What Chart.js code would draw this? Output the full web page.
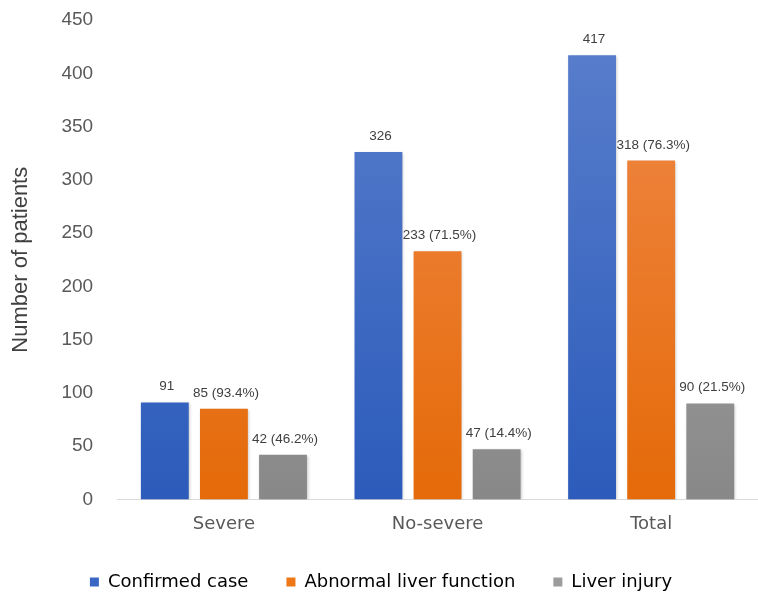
<!DOCTYPE html>
<html>
<head>
<meta charset="utf-8">
<script src="https://cdn.jsdelivr.net/npm/chart.js@4/dist/chart.umd.min.js"></script>
<style>
  html, body { margin: 0; padding: 0; background: #fff; }
  #wrap { width: 758px; height: 593px; }
</style>
</head>
<body>
<div id="wrap"><canvas id="liverChart"></canvas></div>
<script>
const categories = ['Severe', 'No-severe', 'Total'];
const confirmedCase = [91, 326, 417];
const abnormalLiver = [85, 233, 318];
const liverInjury = [42, 47, 90];
const confirmedLabels = ['91', '326', '417'];
const abnormalLabels = ['85 (93.4%)', '233 (71.5%)', '318 (76.3%)'];
const injuryLabels = ['42 (46.2%)', '47 (14.4%)', '90 (21.5%)'];
const yTicks = [0, 50, 100, 150, 200, 250, 300, 350, 400, 450];

const WIDE = "'DejaVu Sans', sans-serif";
const ARIAL = "'Liberation Sans', Arial, sans-serif";

// vertical gradient per bar series, top lighter -> bottom darker
function barGradient(top, bottom) {
    return function (context) {
        const chart = context.chart;
        const area = chart.chartArea;
        if (!area) return bottom;
        const g = chart.ctx.createLinearGradient(0, area.top, 0, area.bottom);
        g.addColorStop(0, top);
        g.addColorStop(1, bottom);
        return g;
    };
}

// ------------------ VALUE LABELS ------------------
const valueLabels = {
    id: 'valueLabels',
    afterDatasetsDraw(chart) {
        const ctx = chart.ctx;
        ctx.save();
        ctx.font = '13.5px ' + ARIAL;
        ctx.fillStyle = '#404040';
        ctx.textAlign = 'center';
        ctx.textBaseline = 'bottom';
        chart.data.datasets.forEach((ds, i) => {
            chart.getDatasetMeta(i).data.forEach((bar, j) => {
                ctx.fillText(ds.valueText[j], bar.x + 2, bar.y - 9);
            });
        });
        ctx.restore();
    }
};

// soft shadow under bars
const barShadow = {
    id: 'barShadow',
    beforeDatasetsDraw(chart) {
        const ctx = chart.ctx;
        ctx.save();
        ctx.shadowColor = 'rgba(0,0,0,0.25)';
        ctx.shadowBlur = 3;
        ctx.shadowOffsetX = 1;
        ctx.shadowOffsetY = 1;
    },
    afterDatasetsDraw(chart) {
        chart.ctx.restore();
    }
};

new Chart(document.getElementById('liverChart'), {
    type: 'bar',
    data: {
        labels: categories,
        datasets: [
            {
                label: 'Confirmed case',
                data: confirmedCase,
                valueText: confirmedLabels,
                backgroundColor: barGradient('#5a7fcc', '#2c5bbb')
            },
            {
                label: 'Abnormal liver function',
                data: abnormalLiver,
                valueText: abnormalLabels,
                backgroundColor: barGradient('#f08a4c', '#e56a08')
            },
            {
                label: 'Liver injury',
                data: liverInjury,
                valueText: injuryLabels,
                backgroundColor: barGradient('#b0b0b0', '#888888')
            }
        ]
    },
    options: {
        responsive: true,
        maintainAspectRatio: false,
        animation: false,
        layout: { padding: { top: 0, right: 0, left: 4, bottom: -8 } },
        datasets: {
            bar: { categoryPercentage: 0.83, barPercentage: 0.81 }
        },
        plugins: {
            legend: {
                position: 'bottom',
                labels: {
                    boxWidth: 9,
                    boxHeight: 9,
                    padding: 38,
                    color: '#595959',
                    font: { family: WIDE, size: 18 },
                    generateLabels(chart) {
                        const sw = ['#3a66c4', '#ee7716', '#9c9c9c'];
                        return chart.data.datasets.map((ds, i) => ({
                            text: ds.label,
                            fillStyle: sw[i],
                            strokeStyle: sw[i],
                            lineWidth: 0,
                            datasetIndex: i
                        }));
                    }
                }
            },
            tooltip: { enabled: false }
        },
        scales: {
            x: {
                grid: { display: false },
                border: { color: '#d9d9d9', width: 1 },
                ticks: {
                    color: '#595959',
                    font: { family: WIDE, size: 18 },
                    padding: 6
                },
                afterFit(scale) { scale.height -= 6; }
            },
            y: {
                min: 0,
                max: 450,
                afterBuildTicks(scale) {
                    scale.ticks = yTicks.map(v => ({ value: v }));
                },
                afterFit(scale) { scale.paddingTop = 20; },
                grid: { display: false },
                border: { display: false },
                ticks: {
                    color: '#595959',
                    font: { family: ARIAL, size: 19 },
                    padding: 16
                },
                title: {
                    display: true,
                    text: 'Number of patients',
                    color: '#404040',
                    font: { family: ARIAL, size: 22 },
                    padding: { bottom: 11 }
                }
            }
        }
    },
    plugins: [barShadow, valueLabels]
});
</script>
</body>
</html>
